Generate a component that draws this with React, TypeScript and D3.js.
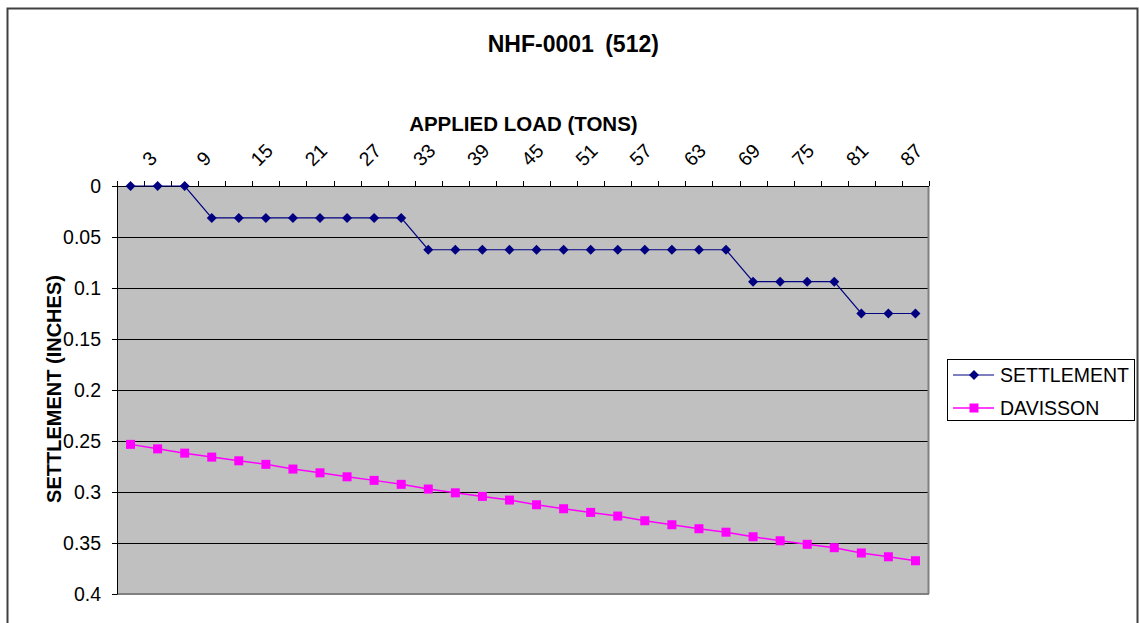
import React from "react";
import * as d3 from "d3";

const loads: number[] = [3, 6, 9, 12, 15, 18, 21, 24, 27, 30, 33, 36, 39, 42, 45, 48, 51, 54, 57, 60, 63, 66, 69, 72, 75, 78, 81, 84, 87, 90];
const settlement: number[] = [
  0, 0, 0,
  0.03125, 0.03125, 0.03125, 0.03125, 0.03125, 0.03125, 0.03125, 0.03125,
  0.0625, 0.0625, 0.0625, 0.0625, 0.0625, 0.0625, 0.0625, 0.0625, 0.0625, 0.0625, 0.0625, 0.0625,
  0.09375, 0.09375, 0.09375, 0.09375,
  0.125, 0.125, 0.125,
];
const davisson: number[] = [
  0.2533, 0.2577, 0.2619, 0.2658, 0.2694, 0.2729, 0.2775, 0.2812, 0.2851, 0.2886,
  0.2925, 0.2971, 0.3008, 0.3043, 0.3079, 0.3125, 0.3164, 0.32, 0.3236, 0.3282,
  0.3321, 0.336, 0.3394, 0.3439, 0.3478, 0.3513, 0.3546, 0.3598, 0.3635, 0.3674,
];
const yTicks: number[] = [0, 0.05, 0.1, 0.15, 0.2, 0.25, 0.3, 0.35, 0.4];
const seriesNames: string[] = ["SETTLEMENT", "DAVISSON"];
const title = "NHF-0001 (512)";
const xTitle = "APPLIED LOAD (TONS)";
const yTitle = "SETTLEMENT (INCHES)";

const W = 1139;
const H = 623;
const L = 117, R = 929, T = 186, B = 594;
const FONT = "'Liberation Sans', Arial, sans-serif";
const NAVY = "#000080";
const MAG = "#FF00FF";

export default function App() {
  const x = d3.scaleBand<number>().domain(loads).range([L, R]).padding(0);
  const y = d3.scaleLinear().domain([0, 0.4]).range([T, B]);
  const cx = (d: number) => (x(d) as number) + x.bandwidth() / 2;
  const line = d3.line<[number, number]>().x((d) => cx(d[0])).y((d) => y(d[1]));
  const sPts: [number, number][] = loads.map((l, i) => [l, settlement[i]]);
  const dPts: [number, number][] = loads.map((l, i) => [l, davisson[i]]);
  const fmt = (v: number) => String(+v.toFixed(2));
  const boundaries = d3.range(loads.length + 1).map((i) => L + i * x.bandwidth());

  const diamond = (px: number, py: number, r = 5) =>
    `M${px},${py - r}L${px + r},${py}L${px},${py + r}L${px - r},${py}Z`;

  const legY = [375, 408];

  return (
    <div style={{ position: "fixed", left: 0, top: 0 }}>
      <svg width={W} height={H} style={{ display: "block", fontFamily: FONT }}>
        <rect x={0} y={0} width={W} height={H} fill="#fff" />
        <rect x={7.5} y={8.5} width={1130} height={H + 10} fill="#fff" stroke="#404040" strokeWidth={2} />
        {/* plot area */}
        <rect x={L} y={T} width={R - L} height={B - T} fill="#C0C0C0" />
        {yTicks.slice(1, -1).map((t) => (
          <line key={t} x1={L} x2={R} y1={Math.round(y(t)) + 0.5} y2={Math.round(y(t)) + 0.5} stroke="#000" strokeWidth={1} />
        ))}
        <line x1={R - 0.5} x2={R - 0.5} y1={T} y2={B} stroke="#808080" strokeWidth={2} />
        <line x1={L} x2={R} y1={B} y2={B} stroke="#808080" strokeWidth={2} />
        {/* axes */}
        <line x1={L + 0.5} x2={L + 0.5} y1={T} y2={B + 0.5} stroke="#000" strokeWidth={1} />
        <line x1={L} x2={R} y1={T + 0.5} y2={T + 0.5} stroke="#000" strokeWidth={1} />
        {yTicks.map((t) => (
          <g key={t}>
            <line x1={L - 5} x2={L} y1={Math.round(y(t)) + 0.5} y2={Math.round(y(t)) + 0.5} stroke="#000" />
            <text x={101} y={y(t)} dy="0.35em" textAnchor="end" fontSize={19.5} fill="#000">{fmt(t)}</text>
          </g>
        ))}
        {boundaries.map((bx, i) => (
          <line key={i} x1={Math.round(bx) + 0.5} x2={Math.round(bx) + 0.5} y1={T - 5} y2={T} stroke="#000" />
        ))}
        {loads.map((l, i) =>
          i % 2 === 0 ? (
            <text
              key={l}
              transform={`translate(${cx(l) + 15.2},${162.5}) rotate(-45)`}
              dy="0.35em"
              textAnchor="start"
              fontSize={19.5}
              fill="#000"
            >
              {l}
            </text>
          ) : null
        )}
        {/* series */}
        <path d={line(dPts) || ""} fill="none" stroke={MAG} strokeWidth={1.5} />
        {dPts.map((p, i) => (
          <rect key={i} x={cx(p[0]) - 4.5} y={y(p[1]) - 4.5} width={9} height={9} fill={MAG} />
        ))}
        <path d={line(sPts) || ""} fill="none" stroke={NAVY} strokeWidth={1.2} />
        {sPts.map((p, i) => (
          <path key={i} d={diamond(cx(p[0]), y(p[1]))} fill={NAVY} />
        ))}
        {/* titles */}
        <text x={573.3} y={51.5} textAnchor="middle" fontSize={23} fontWeight="bold" wordSpacing={5} fill="#000">{title}</text>
        <text x={523.4} y={130.5} textAnchor="middle" fontSize={20.5} fontWeight="bold" fill="#000">{xTitle}</text>
        <text transform={`translate(60.5,389) rotate(-90)`} textAnchor="middle" fontSize={20} fontWeight="bold" fill="#000">{yTitle}</text>
        {/* legend */}
        <rect x={947.5} y={359.5} width={187} height={61} fill="#fff" stroke="#000" strokeWidth={1} />
        <line x1={953} x2={994} y1={legY[0]} y2={legY[0]} stroke={NAVY} strokeWidth={1.2} />
        <path d={diamond(974, legY[0])} fill={NAVY} />
        <text x={1000} y={legY[0]} dy="0.35em" fontSize={19.5} fill="#000">{seriesNames[0]}</text>
        <line x1={953} x2={994} y1={legY[1]} y2={legY[1]} stroke={MAG} strokeWidth={1.5} />
        <rect x={974 - 4.5} y={legY[1] - 4.5} width={9} height={9} fill={MAG} />
        <text x={1000} y={legY[1]} dy="0.35em" fontSize={19.5} fill="#000">{seriesNames[1]}</text>
      </svg>
    </div>
  );
}
